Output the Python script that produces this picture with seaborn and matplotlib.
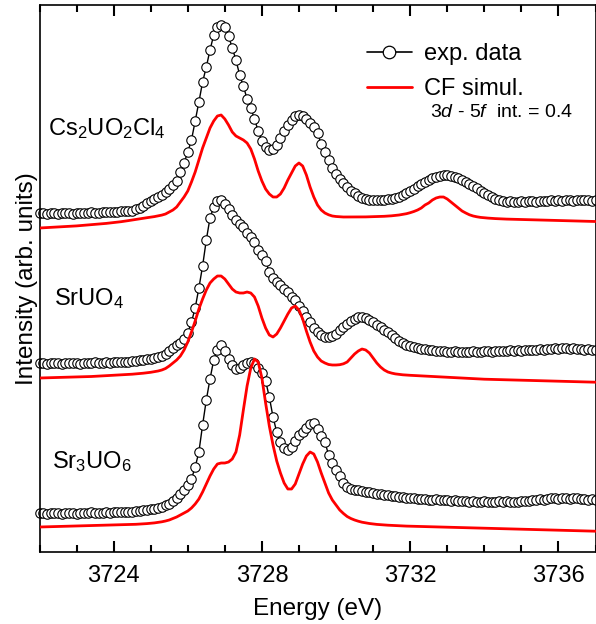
import numpy as np
import matplotlib
matplotlib.use("Agg")
import matplotlib.pyplot as plt
from matplotlib.lines import Line2D
from matplotlib.ticker import MultipleLocator, FixedLocator
import seaborn as sns

# energy grid of the measurement (eV), 0.1 eV steps
energy = np.linspace(3722.0, 3737.0, 151)

# experimental spectra (vertically offset, arb. units)
cs_exp = [3.39, 3.39, 3.38, 3.39, 3.39, 3.38, 3.39, 3.39, 3.39, 3.38,
          3.39, 3.39, 3.39, 3.39, 3.40, 3.39, 3.39, 3.40, 3.40, 3.40,
          3.40, 3.40, 3.41, 3.41, 3.41,
          3.41, 3.43, 3.44, 3.46, 3.49, 3.51, 3.53, 3.55, 3.57, 3.60,
          3.63, 3.67, 3.71, 3.80, 3.89, 4.00, 4.12, 4.31, 4.50, 4.70,
          4.85, 5.02, 5.17, 5.25, 5.27,
          5.25, 5.16, 5.04, 4.92, 4.77, 4.66, 4.53, 4.44, 4.33, 4.21,
          4.11, 4.05, 4.02, 4.03, 4.07, 4.14, 4.21, 4.27, 4.32, 4.36,
          4.37, 4.36, 4.33, 4.29, 4.25,
          4.19, 4.08, 4.00, 3.92, 3.84, 3.78, 3.73, 3.69, 3.65, 3.61,
          3.59, 3.56, 3.54, 3.53, 3.52, 3.52, 3.52, 3.52, 3.52, 3.53,
          3.53, 3.54, 3.55, 3.57, 3.59,
          3.61, 3.63, 3.66, 3.68, 3.70, 3.72, 3.74, 3.75, 3.76, 3.77,
          3.77, 3.76, 3.75, 3.74, 3.72, 3.70, 3.68, 3.66, 3.64, 3.61,
          3.59, 3.57, 3.55, 3.53, 3.52,
          3.51, 3.50, 3.51, 3.50, 3.50, 3.51, 3.50, 3.51, 3.51, 3.50,
          3.51, 3.51, 3.51, 3.52, 3.51, 3.52, 3.51, 3.52, 3.52, 3.51,
          3.52, 3.52, 3.52, 3.52, 3.51, 3.52]

sr_exp = [1.89, 1.89, 1.88, 1.89, 1.89, 1.89, 1.88, 1.89, 1.89, 1.89,
          1.89, 1.88, 1.89, 1.89, 1.89, 1.90, 1.89, 1.89, 1.90, 1.89,
          1.90, 1.90, 1.90, 1.90, 1.90,
          1.91, 1.91, 1.92, 1.92, 1.93, 1.93, 1.94, 1.95, 1.96, 1.98,
          2.01, 2.04, 2.07, 2.09, 2.13, 2.19, 2.30, 2.44, 2.64, 2.86,
          3.12, 3.34, 3.45, 3.51, 3.52,
          3.48, 3.43, 3.37, 3.32, 3.28, 3.25, 3.19, 3.15, 3.10, 3.02,
          2.97, 2.91, 2.80, 2.74, 2.70, 2.67, 2.63, 2.60, 2.55, 2.52,
          2.46, 2.41, 2.35, 2.30, 2.24,
          2.20, 2.17, 2.15, 2.15, 2.16, 2.18, 2.22, 2.25, 2.28, 2.31,
          2.33, 2.35, 2.35, 2.34, 2.32, 2.30, 2.27, 2.25, 2.22, 2.20,
          2.17, 2.14, 2.11, 2.09, 2.07,
          2.06, 2.05, 2.04, 2.03, 2.03, 2.02, 2.02, 2.01, 2.01, 2.01,
          2.00, 2.00, 2.01, 2.00, 2.00, 2.00, 2.00, 2.01, 2.00, 2.00,
          2.01, 2.01, 2.00, 2.01, 2.01,
          2.01, 2.01, 2.02, 2.01, 2.02, 2.01, 2.02, 2.02, 2.02, 2.02,
          2.03, 2.02, 2.03, 2.03, 2.04, 2.03, 2.04, 2.04, 2.03, 2.04,
          2.03, 2.03, 2.02, 2.03, 2.02, 2.02]

sr3_exp = [0.39, 0.39, 0.38, 0.39, 0.39, 0.39, 0.38, 0.39, 0.39, 0.39,
           0.38, 0.39, 0.39, 0.39, 0.40, 0.39, 0.39, 0.39, 0.40, 0.39,
           0.40, 0.40, 0.40, 0.40, 0.40,
           0.40, 0.41, 0.41, 0.42, 0.42, 0.43, 0.43, 0.44, 0.45, 0.47,
           0.48, 0.51, 0.54, 0.58, 0.62, 0.67, 0.73, 0.85, 1.00, 1.27,
           1.52, 1.73, 1.92, 2.02, 2.07,
           2.01, 1.93, 1.87, 1.83, 1.84, 1.87, 1.89, 1.90, 1.89, 1.84,
           1.79, 1.71, 1.55, 1.35, 1.20, 1.10, 1.04, 1.02, 1.05, 1.11,
           1.17, 1.20, 1.24, 1.28, 1.29,
           1.23, 1.16, 1.10, 0.97, 0.89, 0.82, 0.76, 0.69, 0.65, 0.63,
           0.62, 0.62, 0.61, 0.60, 0.60, 0.59, 0.58, 0.58, 0.57, 0.57,
           0.56, 0.56, 0.55, 0.55, 0.54,
           0.54, 0.54, 0.53, 0.53, 0.53, 0.52, 0.52, 0.53, 0.52, 0.52,
           0.52, 0.51, 0.52, 0.51, 0.51, 0.51, 0.50, 0.51, 0.50, 0.50,
           0.51, 0.50, 0.50, 0.50, 0.51,
           0.50, 0.51, 0.50, 0.50, 0.50, 0.51, 0.51, 0.51, 0.52, 0.52,
           0.53, 0.52, 0.53, 0.54, 0.54, 0.53, 0.54, 0.54, 0.53, 0.54,
           0.54, 0.53, 0.53, 0.52, 0.53, 0.52]

# crystal-field simulations (same grid, same offsets)
cs_sim = [3.240, 3.242, 3.244, 3.246, 3.248, 3.250, 3.252, 3.254, 3.256, 3.258,
          3.261, 3.264, 3.267, 3.270, 3.273, 3.276, 3.279, 3.282, 3.286, 3.290,
          3.294, 3.298, 3.303, 3.308, 3.314,
          3.320, 3.326, 3.332, 3.338, 3.343, 3.348, 3.354, 3.361, 3.369, 3.38,
          3.40, 3.42, 3.45, 3.50, 3.55, 3.61, 3.70, 3.80, 3.92, 4.04,
          4.14, 4.24, 4.31, 4.36, 4.37,
          4.33, 4.27, 4.20, 4.16, 4.14, 4.12, 4.09, 4.03, 3.93, 3.81,
          3.71, 3.63, 3.58, 3.55, 3.55, 3.58, 3.64, 3.72, 3.79, 3.86,
          3.89, 3.86, 3.77, 3.65, 3.55,
          3.47, 3.42, 3.39, 3.372, 3.36, 3.355, 3.352, 3.350, 3.350, 3.350,
          3.350, 3.350, 3.350, 3.351, 3.352, 3.353, 3.354, 3.355, 3.357, 3.359,
          3.362, 3.366, 3.370, 3.376, 3.383,
          3.393, 3.405, 3.42, 3.44, 3.47, 3.49, 3.52, 3.54, 3.55, 3.55,
          3.53, 3.50, 3.47, 3.44, 3.41, 3.39, 3.372, 3.36, 3.352, 3.346,
          3.342, 3.339, 3.336, 3.334, 3.332,
          3.330, 3.329, 3.328, 3.327, 3.326, 3.325, 3.324, 3.323, 3.322, 3.321,
          3.320, 3.319, 3.318, 3.317, 3.316, 3.315, 3.314, 3.313, 3.312, 3.311,
          3.310, 3.309, 3.308, 3.307, 3.306, 3.305]

sr_sim = [1.740, 1.741, 1.742, 1.743, 1.744, 1.745, 1.746, 1.747, 1.748, 1.749,
          1.750, 1.751, 1.752, 1.753, 1.755, 1.757, 1.759, 1.761, 1.763, 1.765,
          1.767, 1.769, 1.771, 1.773, 1.775,
          1.778, 1.781, 1.784, 1.788, 1.792, 1.797, 1.803, 1.81, 1.82, 1.835,
          1.86, 1.89, 1.92, 1.96, 2.02, 2.10, 2.20, 2.31, 2.43, 2.53,
          2.62, 2.69, 2.73, 2.76, 2.76,
          2.73, 2.68, 2.63, 2.60, 2.59, 2.59, 2.60, 2.59, 2.55, 2.46,
          2.34, 2.24, 2.17, 2.15, 2.18, 2.24, 2.31, 2.38, 2.44, 2.46,
          2.42, 2.33, 2.21, 2.10, 2.01,
          1.95, 1.91, 1.89, 1.875, 1.870, 1.870, 1.873, 1.882, 1.90, 1.94,
          1.98, 2.01, 2.03, 2.02, 1.99, 1.94, 1.89, 1.85, 1.82, 1.80,
          1.789, 1.781, 1.776, 1.772, 1.769,
          1.767, 1.765, 1.763, 1.761, 1.759, 1.757, 1.755, 1.753, 1.751, 1.749,
          1.747, 1.745, 1.743, 1.741, 1.739, 1.737, 1.735, 1.733, 1.731, 1.729,
          1.728, 1.727, 1.726, 1.725, 1.724,
          1.723, 1.722, 1.721, 1.720, 1.719, 1.718, 1.717, 1.716, 1.715, 1.714,
          1.713, 1.712, 1.711, 1.710, 1.709, 1.708, 1.707, 1.706, 1.705, 1.704,
          1.703, 1.702, 1.701, 1.700, 1.699, 1.698]

sr3_sim = [0.250, 0.251, 0.252, 0.253, 0.254, 0.255, 0.256, 0.257, 0.258, 0.259,
           0.260, 0.261, 0.262, 0.263, 0.264, 0.265, 0.266, 0.267, 0.268, 0.269,
           0.270, 0.271, 0.272, 0.273, 0.274,
           0.275, 0.277, 0.279, 0.281, 0.284, 0.287, 0.291, 0.296, 0.302, 0.31,
           0.32, 0.335, 0.35, 0.37, 0.39, 0.41, 0.44, 0.48, 0.53, 0.60,
           0.68, 0.76, 0.83, 0.88, 0.89,
           0.89, 0.90, 0.93, 1.00, 1.17, 1.42, 1.66, 1.84, 1.93, 1.90,
           1.74, 1.49, 1.26, 1.07, 0.91, 0.79, 0.69, 0.63, 0.63, 0.68,
           0.78, 0.88, 0.96, 1.00, 0.98,
           0.90, 0.79, 0.69, 0.59, 0.52, 0.47, 0.42, 0.385, 0.355, 0.335,
           0.32, 0.308, 0.298, 0.291, 0.285, 0.280, 0.276, 0.273, 0.270, 0.268,
           0.266, 0.264, 0.262, 0.260, 0.259,
           0.258, 0.257, 0.256, 0.255, 0.254, 0.253, 0.252, 0.251, 0.250, 0.249,
           0.248, 0.247, 0.246, 0.245, 0.244, 0.243, 0.242, 0.241, 0.240, 0.239,
           0.238, 0.237, 0.236, 0.235, 0.234,
           0.233, 0.232, 0.231, 0.230, 0.229, 0.228, 0.227, 0.226, 0.225, 0.224,
           0.223, 0.222, 0.221, 0.220, 0.219, 0.218, 0.217, 0.216, 0.215, 0.214,
           0.213, 0.212, 0.211, 0.210, 0.209, 0.208]

samples = [r"Cs$_2$UO$_2$Cl$_4$", r"SrUO$_4$", r"Sr$_3$UO$_6$"]
label_pos = [(3722.22, 4.17), (3722.38, 2.47), (3722.33, 0.84)]

sns.set_style("ticks")
plt.rcParams["font.family"] = ["Liberation Sans", "DejaVu Sans"]
plt.rcParams["mathtext.fontset"] = "custom"
plt.rcParams["mathtext.rm"] = "Liberation Sans"
plt.rcParams["mathtext.it"] = "Liberation Sans:italic"
for key in ["text.color", "axes.labelcolor", "xtick.color", "ytick.color",
            "axes.edgecolor"]:
    plt.rcParams[key] = "black"
plt.rcParams["axes.linewidth"] = 1.2
plt.rcParams["patch.force_edgecolor"] = False

fig = plt.figure(figsize=(5.96, 6.24), dpi=100)
ax = fig.add_axes([39.5 / 596, 1 - 552 / 624, 556 / 596, 547 / 624])

# no error bands: one measured value per energy
for exp in [cs_exp, sr_exp, sr3_exp]:
    sns.lineplot(x=energy, y=exp, ax=ax, color="black", lw=1.0,
                 marker="o", markersize=6.8, markerfacecolor="white",
                 markeredgecolor="black", markeredgewidth=0.8,
                 errorbar=None, estimator=None, clip_on=False, zorder=2)
for sim in [cs_sim, sr_sim, sr3_sim]:
    sns.lineplot(x=energy, y=sim, ax=ax, color="red", lw=2.0,
                 errorbar=None, estimator=None, zorder=3)

for name, (xp, yp) in zip(samples, label_pos):
    ax.text(xp, yp, name, fontsize=17, ha="left", va="baseline")

ax.set_xlim(3722, 3737)
ax.set_ylim(0, 5.47)
ax.set_xlabel("Energy (eV)", fontsize=17.5, labelpad=8, visible=True)
ax.set_ylabel("Intensity (arb. units)", fontsize=17.5, labelpad=1,
              visible=True)

ax.xaxis.set_major_locator(FixedLocator([3724, 3728, 3732, 3736]))
ax.xaxis.set_minor_locator(MultipleLocator(1))
ax.tick_params(axis="x", which="both", direction="in", top=True,
               bottom=True, color="black", width=1.5, labelsize=17, pad=9)
ax.tick_params(axis="x", which="major", length=8)
ax.tick_params(axis="x", which="minor", length=5)
ax.tick_params(axis="y", which="both", left=False, right=False,
               labelleft=False)
ax.set_axisbelow(False)

handles = [
    Line2D([], [], color="black", lw=1.2, marker="o", markersize=9,
           markerfacecolor="white", markeredgecolor="black",
           markeredgewidth=0.9),
    Line2D([], [], color="red", lw=2.0),
]
ax.legend(handles, ["exp. data", "CF simul."], loc="upper left",
          bbox_to_anchor=(0.589, 0.930), frameon=False, fontsize=17,
          borderpad=0, borderaxespad=0, handlelength=1.9,
          handletextpad=0.5, labelspacing=0.53)
ax.text(0.702, 0.804, r"$\mathit{3d}$ - $\mathit{5f}$  int. = 0.4",
        transform=ax.transAxes, fontsize=14, ha="left", va="center")

fig.savefig("out.png", dpi=100)
